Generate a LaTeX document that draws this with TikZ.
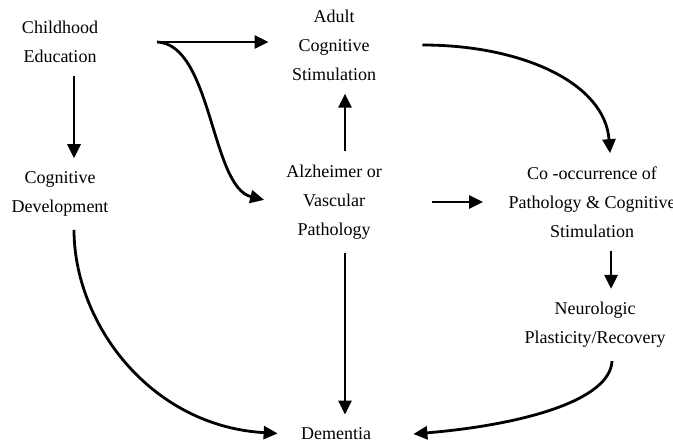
\documentclass[tikz,border=0pt]{standalone}
\usepackage{fontspec}
\setmainfont{Liberation Serif}
\usetikzlibrary{positioning,arrows.meta}

\begin{document}
\begin{tikzpicture}[x=0.5pt,y=-0.5pt,>={Triangle[length=7pt,width=6.5pt]},node distance=60pt,on grid,line width=1.4pt,
    every node/.style={align=center,inner sep=6pt,font=\fontsize{9}{14.5}\selectfont}]
  \useasboundingbox (0,0) rectangle (673,444);

  \node (edu)                                  at (60,42) {Childhood\\Education};
  \node (cogdev) [below=76pt of edu]           {Cognitive\\Development};
  \node (adult)  [below right=1.5pt and 137pt of edu] {Adult\\Cognitive\\Stimulation};
  \node (alz)    [below=78.5pt of adult]       {Alzheimer or\\Vascular\\Pathology};
  \node (cooc)   [right=129pt of alz]          {Co -occurrence of\\Pathology \& Cognitive\\Stimulation};
  \node (neuro)  [below right=61.5pt and 1.5pt of cooc] {Neurologic\\Plasticity/Recovery};
  \node (dem)    [below right=116pt and 1pt of alz]     {Dementia};
  \coordinate[right=48.5pt of edu] (fork);

  \draw[->] ([xshift=7pt]edu.south) -- ([xshift=7pt]cogdev.north);
  \draw[->, shorten >=5pt] (fork) -- (fork -| adult.west);
  \draw[->, shorten >=4.5pt] (fork) .. controls +(55,2) and +(-62,-15) .. (alz.west);
  \draw[->] ([xshift=5.5pt]alz.north) -- ([xshift=5.5pt]alz.north |- adult.south);
  \draw[->] ([xshift=16.5pt]adult.east) .. controls +(100,0) and +(-5,-70) .. ([xshift=9pt]cooc.north);
  \draw[->, shorten <=18.5pt, shorten >=6pt] (alz.east) -- (alz.east -| cooc.west);
  \draw[->] ([xshift=9.5pt]cooc.south) -- ([xshift=9.5pt]cooc.south |- neuro.north);
  \draw[->] ([xshift=5.5pt]alz.south) -- ([xshift=5.5pt]alz.south |- dem.north);
  \draw[->, shorten >=5pt] ([xshift=7pt]cogdev.south) .. controls +(0,93) and +(-138,-8) .. (dem.west);
  \draw[->] ([xshift=8.5pt]neuro.south) .. controls +(-2,40) and +(107,-9) .. ([xshift=14.5pt]dem.east);
\end{tikzpicture}
\end{document}
